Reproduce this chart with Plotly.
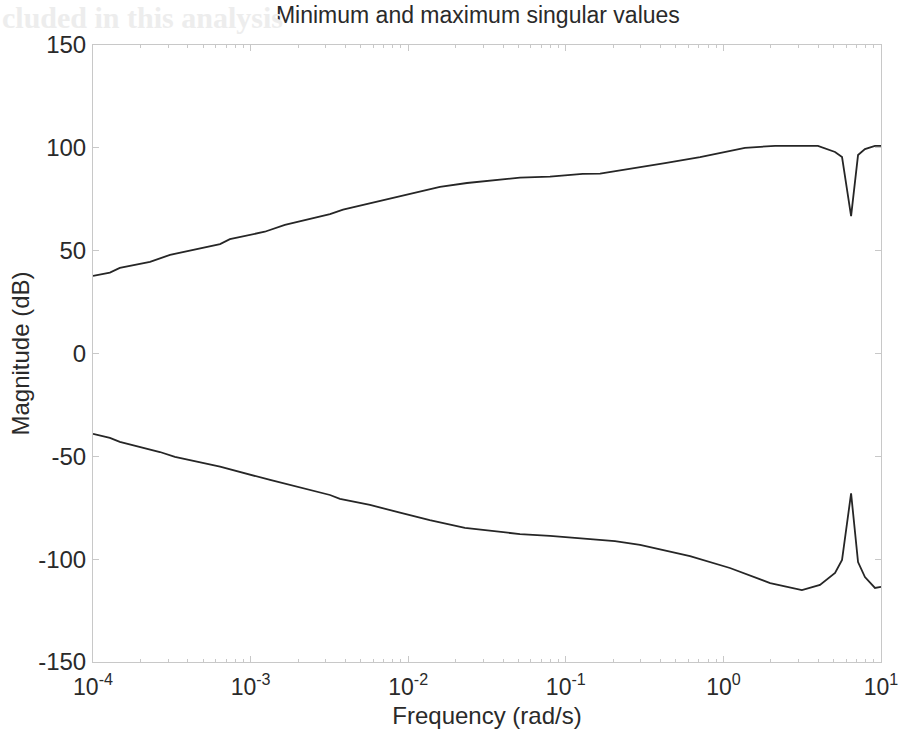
import plotly.graph_objects as go

# Maximum singular value (dB) vs frequency (rad/s)
freq_max = [1.0e-4, 1.28e-4, 1.48e-4, 2.30e-4, 3.08e-4, 6.40e-4, 7.39e-4, 1.23e-3,
            1.65e-3, 3.19e-3, 3.86e-3, 8.87e-3, 1.59e-2, 2.36e-2, 3.82e-2, 5.12e-2,
            7.94e-2, 0.128, 0.165, 0.255, 0.426, 0.711, 1.10, 1.37, 2.13, 3.98,
            5.11, 5.66, 6.46, 7.15, 7.91, 9.16, 10.0]
sv_max = [37.7, 39.3, 41.6, 44.6, 47.9, 53.2, 55.6, 59.2,
          62.5, 67.8, 70.0, 76.5, 81.0, 82.9, 84.3, 85.5,
          86.0, 87.3, 87.5, 90.0, 92.6, 95.5, 98.4, 100.0, 101.0, 101.0,
          98.0, 95.5, 66.8, 96.5, 99.4, 101.0, 101.0]

# Minimum singular value (dB) vs frequency (rad/s)
freq_min = [1.0e-4, 1.28e-4, 1.48e-4, 2.66e-4, 3.31e-4, 6.40e-4, 1.33e-3, 3.19e-3,
            3.69e-3, 5.72e-3, 8.87e-3, 1.37e-2, 2.29e-2, 3.30e-2, 5.12e-2, 7.94e-2,
            0.123, 0.205, 0.296, 0.614, 1.10, 1.98, 3.15, 4.10, 5.11, 5.66,
            6.46, 7.15, 7.91, 9.16, 10.0]
sv_min = [-39.1, -41.0, -43.0, -47.9, -50.3, -55.0, -61.5, -68.8,
          -70.7, -73.6, -77.4, -81.0, -84.8, -86.1, -87.8, -88.7,
          -89.7, -91.2, -93.0, -98.5, -104.3, -111.6, -115.0, -112.5, -106.7, -100.4,
          -68.0, -101.4, -108.7, -114.0, -113.5]

x_tickvals = [1e-4, 1e-3, 1e-2, 1e-1, 1e0, 1e1]
x_ticktext = ["10<sup>-4</sup>", "10<sup>-3</sup>", "10<sup>-2</sup>",
              "10<sup>-1</sup>", "10<sup>0</sup>", "10<sup>1</sup>"]
y_tickvals = [-150, -100, -50, 0, 50, 100, 150]
y_ticktext = ["-150", "-100", "-50", "0", "50", "100", "150"]

minor_x = []
for e in range(-4, 1):
    for k in range(2, 10):
        minor_x.append(k * 10 ** e)

line_color = "#262626"
axis_color = "#c8c8c8"
font_family = "Liberation Sans, Arial, sans-serif"

fig = go.Figure()
fig.add_trace(go.Scatter(x=freq_max, y=sv_max, mode="lines",
                         line=dict(color=line_color, width=1.8), showlegend=False))
fig.add_trace(go.Scatter(x=freq_min, y=sv_min, mode="lines",
                         line=dict(color=line_color, width=1.8), showlegend=False))

fig.update_layout(
    width=900, height=743,
    margin=dict(l=93, r=19, t=45, b=81),
    paper_bgcolor="white", plot_bgcolor="white",
    font=dict(family=font_family, size=22, color="#2a2a2a"),
    title=dict(text="Minimum and maximum singular values", x=0.531, xanchor="center",
               y=0.98, yanchor="middle", font=dict(size=23, color="#2a2a2a")),
)

fig.add_annotation(text="<b>cluded in this analysis</b>", xref="paper", yref="paper",
                   x=-0.118, y=1.045, xanchor="left", yanchor="middle", showarrow=False,
                   font=dict(family="Liberation Serif, serif", size=30, color="#ededed"))

fig.update_xaxes(
    type="log", range=[-4, 1], automargin=False,
    tickvals=x_tickvals, ticktext=x_ticktext,
    ticks="inside", ticklen=6, tickcolor=axis_color, tickwidth=1,
    showline=True, linecolor=axis_color, linewidth=1, mirror="ticks",
    showgrid=False, zeroline=False, ticklabelstandoff=4,
    minor=dict(tickvals=minor_x, ticks="inside", ticklen=3, tickcolor=axis_color, showgrid=False),
    title=dict(text="Frequency (rad/s)", font=dict(size=24), standoff=8),
    tickfont=dict(size=23),
)
fig.update_yaxes(
    range=[-150, 150], automargin=False,
    tickvals=y_tickvals, ticktext=y_ticktext,
    ticks="inside", ticklen=6, tickcolor=axis_color, tickwidth=1,
    showline=True, linecolor=axis_color, linewidth=1, mirror="ticks",
    showgrid=False, zeroline=False, ticklabelstandoff=1,
    title=dict(text="Magnitude (dB)", font=dict(size=24), standoff=1),
    tickfont=dict(size=24),
)

fig.write_html("out.html", config={"displayModeBar": False},
               post_script="document.body.style.margin='0';")
